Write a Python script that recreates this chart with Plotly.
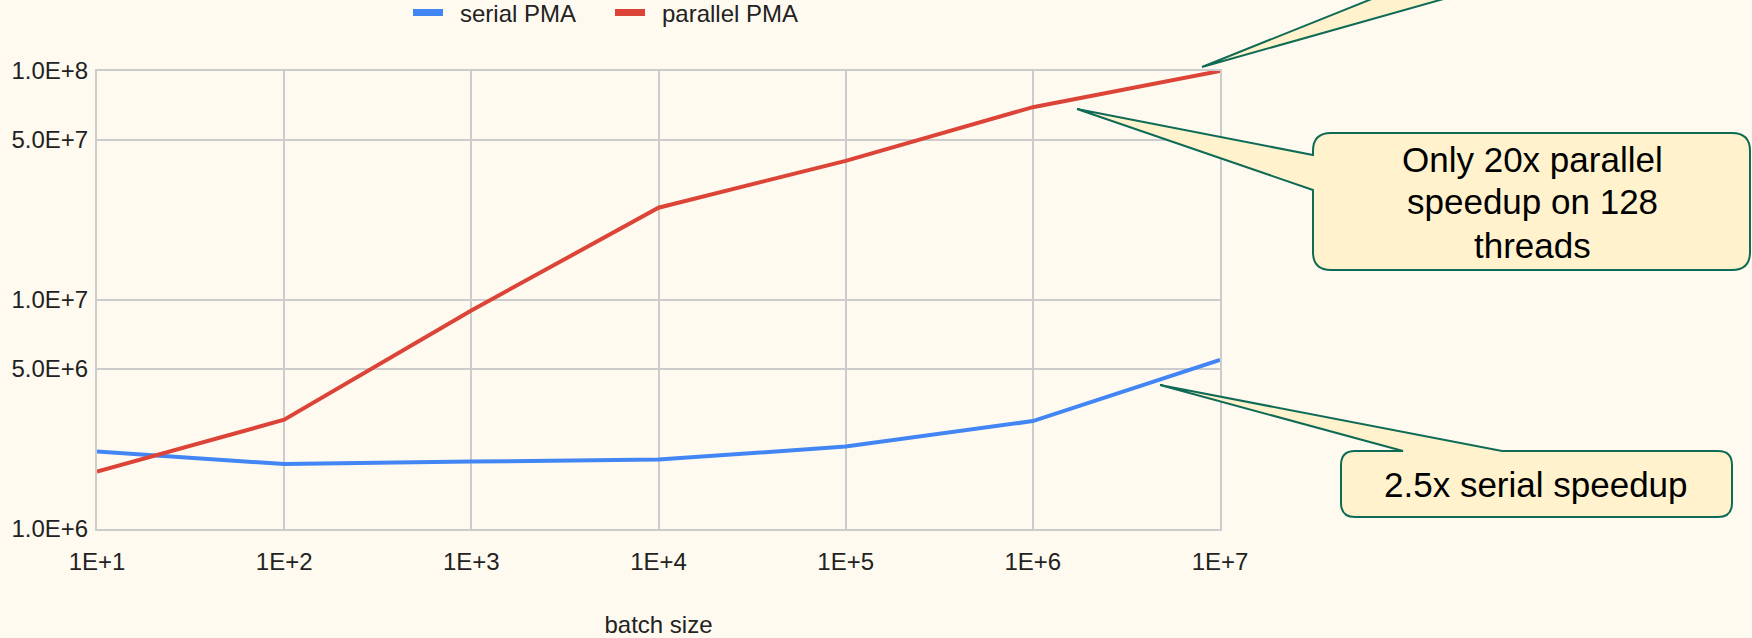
import plotly.graph_objects as go

# ---- data -------------------------------------------------------------
batch_sizes = [1e1, 1e2, 1e3, 1e4, 1e5, 1e6, 1e7]
serial_pma = [2.18e6, 1.92e6, 1.97e6, 2.01e6, 2.29e6, 2.96e6, 5.48e6]
parallel_pma = [1.78e6, 3.0e6, 9.0e6, 2.53e7, 4.05e7, 6.95e7, 1.0e8]

x_tick_labels = ["1E+1", "1E+2", "1E+3", "1E+4", "1E+5", "1E+6", "1E+7"]
y_tick_values = [1e6, 5e6, 1e7, 5e7, 1e8]
y_tick_labels = ["1.0E+6", "5.0E+6", "1.0E+7", "5.0E+7", "1.0E+8"]

series_names = ["serial PMA", "parallel PMA"]
series_colors = ["#4285F4", "#DB4437"]

# ---- page geometry (pixels) -------------------------------------------
W, H = 1752, 638
PL, PR, PT, PB = 97, 1220, 71, 529

FONT = "Liberation Sans, Arial, sans-serif"
CALLOUT_FILL = "#FFF2CC"
CALLOUT_LINE = "#0F6B55"


def to_paper(x, y):
    return (x - PL) / (PR - PL), (PB - y) / (PB - PT)


def path(cmds):
    """Build an SVG path in paper units from pixel-space commands."""
    out = []
    for cmd in cmds:
        op, pts = cmd[0], cmd[1:]
        s = op
        for (x, y) in pts:
            px_, py_ = to_paper(x, y)
            s += f"{px_:.5f},{py_:.5f} "
        out.append(s.strip())
    return " ".join(out)


fig = go.Figure()

for name, vals, col in zip(series_names, [serial_pma, parallel_pma], series_colors):
    fig.add_trace(go.Scatter(
        x=batch_sizes, y=vals, mode="lines", name=name,
        line=dict(color=col, width=4), showlegend=False,
    ))
    # legend swatch (en space keeps a gap between swatch and label)
    fig.add_trace(go.Scatter(
        x=[None], y=[None], mode="lines", name="\u2002" + name,
        line=dict(color=col, width=7), showlegend=True,
    ))

# ---- callouts ----------------------------------------------------------
shapes = []

# wedge coming down from a box above the page
shapes.append(dict(
    type="path", xref="paper", yref="paper", layer="above",
    path=path([("M", (1202, 67)), ("L", (1469, -40)), ("L", (1582, -40)), ("Z",)]),
    fillcolor=CALLOUT_FILL, line=dict(color=CALLOUT_LINE, width=2),
))

# "Only 20x parallel speedup" box with wedge on its left edge
x0, y0, x1, y1, r = 1313, 133, 1750, 270, 18
shapes.append(dict(
    type="path", xref="paper", yref="paper", layer="above",
    path=path([
        ("M", (x0 + r, y0)), ("L", (x1 - r, y0)), ("Q", (x1, y0), (x1, y0 + r)),
        ("L", (x1, y1 - r)), ("Q", (x1, y1), (x1 - r, y1)),
        ("L", (x0 + r, y1)), ("Q", (x0, y1), (x0, y1 - r)),
        ("L", (x0, 190)), ("L", (1077, 109)), ("L", (x0, 155)),
        ("L", (x0, y0 + r)), ("Q", (x0, y0), (x0 + r, y0)), ("Z",),
    ]),
    fillcolor=CALLOUT_FILL, line=dict(color=CALLOUT_LINE, width=2),
))

# "2.5x serial speedup" box with wedge on its top edge
x0, y0, x1, y1, r = 1341, 451, 1732, 517, 14
shapes.append(dict(
    type="path", xref="paper", yref="paper", layer="above",
    path=path([
        ("M", (x0 + r, y0)), ("L", (1403, y0)), ("L", (1160, 385)), ("L", (1502, y0)),
        ("L", (x1 - r, y0)), ("Q", (x1, y0), (x1, y0 + r)),
        ("L", (x1, y1 - r)), ("Q", (x1, y1), (x1 - r, y1)),
        ("L", (x0 + r, y1)), ("Q", (x0, y1), (x0, y1 - r)),
        ("L", (x0, y0 + r)), ("Q", (x0, y0), (x0 + r, y0)), ("Z",),
    ]),
    fillcolor=CALLOUT_FILL, line=dict(color=CALLOUT_LINE, width=2),
))

annotations = []
for text, (cx, cy) in [
    ("Only 20x parallel", (1532, 159)),
    ("speedup on 128", (1532, 202)),
    ("threads", (1532, 246)),
    ("2.5x serial speedup", (1536, 484)),
]:
    ax_, ay_ = to_paper(cx, cy)
    annotations.append(dict(
        text=text, x=ax_, y=ay_, xref="paper", yref="paper",
        xanchor="center", yanchor="middle", showarrow=False,
        font=dict(family=FONT, size=35, color="#000000"),
    ))

lx, ly = to_paper(408, 13)

fig.update_layout(
    width=W, height=H,
    margin=dict(l=PL, r=W - PR, t=PT, b=H - PB, pad=0, autoexpand=False),
    paper_bgcolor="#FFFAEF", plot_bgcolor="#FFFAEF",
    font=dict(family=FONT, size=24, color="#222222"),
    showlegend=True,
    legend=dict(
        orientation="h", x=lx, y=ly, xanchor="left", yanchor="middle",
        bgcolor="rgba(0,0,0,0)", font=dict(size=24, color="#222222"),
        itemwidth=30, entrywidth=157,
    ),
    shapes=shapes,
    annotations=annotations,
    xaxis=dict(
        type="log", range=[1, 7], automargin=False,
        tickvals=batch_sizes, ticktext=x_tick_labels,
        showgrid=True, gridcolor="#CCCCCC", gridwidth=2,
        showline=True, mirror=True, linecolor="#CCCCCC", linewidth=2,
        ticks="", ticklabelstandoff=10,
        title=dict(text="batch size", standoff=49, font=dict(size=24)),
    ),
    yaxis=dict(
        type="log", range=[6, 8], automargin=False,
        tickvals=y_tick_values, ticktext=y_tick_labels,
        showgrid=True, gridcolor="#CCCCCC", gridwidth=2,
        showline=True, mirror=True, linecolor="#CCCCCC", linewidth=2,
        ticks="", ticklabelstandoff=2,
    ),
)

fig.write_html("out.html")
